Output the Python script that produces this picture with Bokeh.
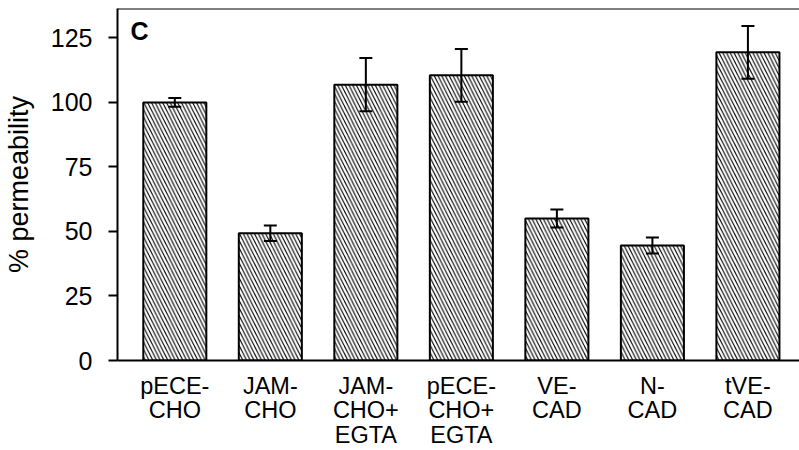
from bokeh.plotting import figure
from bokeh.models import Range1d, FixedTicker, Whisker, TeeHead, ColumnDataSource, Span, Label
from bokeh.embed import file_html
from bokeh.resources import INLINE

# ---- data ----
categories = ["pECE-\nCHO", "JAM-\nCHO", "JAM-\nCHO+\nEGTA", "pECE-\nCHO+\nEGTA",
              "VE-\nCAD", "N-\nCAD", "tVE-\nCAD"]
permeability = [100.0, 49.3, 106.9, 110.5, 55.0, 44.6, 119.4]
sem = [1.7, 3.0, 10.3, 10.2, 3.5, 3.1, 10.2]
y_ticks = [0, 25, 50, 75, 100, 125]
panel_letter = "C"

xs = list(range(len(categories)))
src = ColumnDataSource(dict(
    x=xs, top=permeability,
    upper=[v + e for v, e in zip(permeability, sem)],
    lower=[v - e for v, e in zip(permeability, sem)],
))

FONT = "Liberation Sans"
x_start, x_end = -0.60, 6.54
y_end = 136.4

p = figure(width=799, height=450, output_backend="svg", toolbar_location=None,
           x_range=Range1d(x_start, x_end), y_range=Range1d(0, y_end),
           min_border_left=116, min_border_right=0, min_border_top=8,
           min_border_bottom=90)
p.outline_line_color = None
p.grid.visible = False
p.background_fill_color = "white"
p.border_fill_color = "white"

p.vbar(x="x", top="top", width=0.66, source=src, fill_color="white",
       line_color="black", line_width=2,
       hatch_pattern="\\", hatch_color="black", hatch_scale=7.5, hatch_weight=1.1)

w = Whisker(source=src, base="x", upper="upper", lower="lower",
            line_color="black", line_width=2, level="overlay",
            upper_head=TeeHead(size=13, line_width=2, line_color="black"),
            lower_head=TeeHead(size=13, line_width=2, line_color="black"))
p.add_layout(w)

p.add_layout(Span(location=y_end, dimension="width", line_color="black", line_width=2))

# y axis
p.yaxis.ticker = FixedTicker(ticks=y_ticks)
p.yaxis.axis_line_width = 2
p.yaxis.major_tick_line_width = 2
p.yaxis.major_tick_out = 9
p.yaxis.major_tick_in = 0
p.yaxis.minor_tick_line_color = None
p.yaxis.major_label_text_font = FONT
p.yaxis.major_label_text_font_size = "25px"
p.yaxis.major_label_text_color = "black"
p.yaxis.major_label_standoff = 16
p.yaxis.axis_label = "% permeability"
p.yaxis.axis_label_text_font = FONT
p.yaxis.axis_label_text_font_size = "27px"
p.yaxis.axis_label_text_font_style = "normal"
p.yaxis.axis_label_text_color = "black"
p.yaxis.axis_label_standoff = 14

# x axis
p.xaxis.ticker = FixedTicker(ticks=xs)
p.xaxis.major_label_overrides = {i: c for i, c in zip(xs, categories)}
p.xaxis.axis_line_width = 2
p.xaxis.major_tick_line_color = None
p.xaxis.minor_tick_line_color = None
p.xaxis.major_tick_out = 0
p.xaxis.major_tick_in = 0
p.xaxis.major_label_text_font = FONT
p.xaxis.major_label_text_font_size = "23.5px"
p.xaxis.major_label_text_color = "black"
p.xaxis.major_label_standoff = 12
p.xaxis.major_label_text_line_height = 0.95

p.add_layout(Label(x=x_start + 13 / 95.6, y=127.5, text=panel_letter,
                   text_font=FONT, text_font_size="25px", text_font_style="bold",
                   text_color="black", text_baseline="alphabetic"))

open("out.html", "w").write(file_html(p, INLINE))
